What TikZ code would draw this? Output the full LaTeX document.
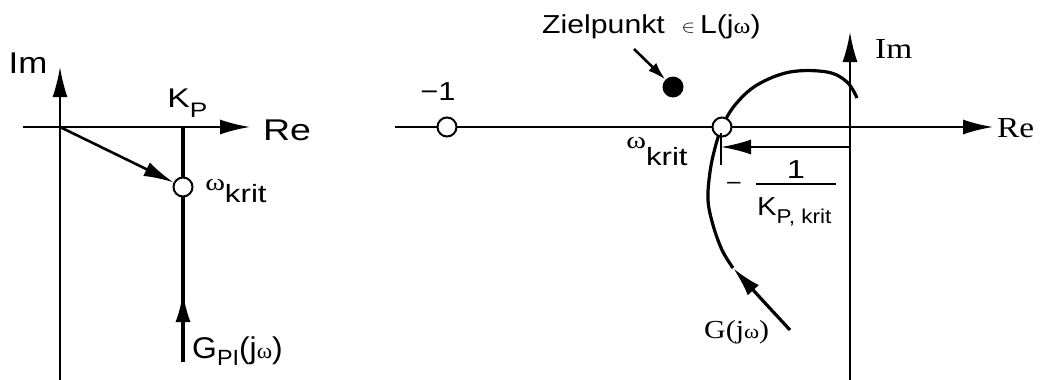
\documentclass[tikz,border=0pt]{standalone}
\usepackage{fontspec}
\usepackage{graphicx}
\setmainfont{Liberation Serif}
\setsansfont{Liberation Sans}
\usetikzlibrary{arrows.meta}
\newcommand\fs[1]{\fontsize{#1}{#1}\selectfont}
\newcommand\lsub[3]{\raisebox{-#1pt}{\fs{#2}#3}}
\newcommand\om[1][18]{{\rmfamily\fs{#1}ω}}
\tikzset{
  axis/.style={line width=2pt},
  thickline/.style={line width=3.6pt},
  bigtip/.style={-{Latex[length=30pt,width=15pt]}},
  opendot/.style={circle,draw,fill=white,line width=2pt,minimum size=19pt,inner sep=0pt},
  fulldot/.style={circle,fill=black,minimum size=21pt,inner sep=0pt},
  sflab/.style={font=\sffamily\fs{30}, inner sep=0pt, xscale=1.25},
  rmlab/.style={font=\rmfamily\fs{29}, inner sep=0pt, xscale=1.15}
}
\begin{document}
\begin{tikzpicture}[x=1pt,y=-1pt]
\useasboundingbox (0,0) rectangle (1042,380);
% ---------------- left diagram ----------------
\coordinate (imLbot) at (60,385);
\coordinate (imLtop) at (60,67);
\coordinate (reLleft) at (23,127);
\coordinate (reLtip) at (250,127);
\coordinate (O1) at (60,127);
\coordinate (kTop) at (183,127);
\coordinate (kBot) at (183,362);
\coordinate (kArr) at (183,292);
\coordinate (kArrBase) at (183,330);
\draw[axis,bigtip] (imLbot) -- (imLtop);
\draw[axis,bigtip] (reLleft) -- (reLtip);
\draw[thickline] (kTop) -- (kBot);
\draw[thickline,bigtip] (kArrBase) -- (kArr);
\node[opendot] (c1) at (183,187) {};
\draw[line width=2.6pt,bigtip] (O1) -- (c1);
\node[sflab,xscale=0.93] (imL) at (28,63) {Im};
\node[sflab] (reL) at (287,130) {Re};
\node[sflab,anchor=base west,font=\sffamily\fs{27}] (kp) at (167,107) {K\lsub{10}{21}{P}};
\node[sflab,anchor=base west] (wk1) at (205,190) {\om[24]\lsub{12}{25}{krit}};
\node[sflab,anchor=base west,xscale=0.85] (gpi) at (192,358) {G\lsub{7}{22}{PI}(j\om[22])};
% ---------------- right diagram ----------------
\coordinate (reRleft) at (395,127);
\coordinate (reRtip) at (993,127);
\coordinate (imRbot) at (850,385);
\coordinate (imRtop) at (850,32);
\draw[axis,bigtip] (reRleft) -- (reRtip);
\draw[axis,bigtip] (imRbot) -- (imRtop);
\node[opendot] (cm1) at (447,127) {};
\node[fulldot] (zp) at (673,87) {};
\coordinate (zpa) at (634,49);
\draw[line width=2.6pt,-{Latex[length=18pt,width=11pt]}] (zpa) -- (zp);
% curve
\coordinate (gEnd) at (790,330);
\coordinate (gTip) at (733,268);
\draw[line width=3.2pt,-{Latex[length=30pt,width=15pt]}] (gEnd) .. controls (765,303) .. (gTip);
\draw[line width=3.2pt] plot[smooth,tension=0.6] coordinates {(733,268) (722,250) (713,225) (708,200) (710,172) (715,148) (722,127) (735,105) (757,85) (790,72) (827,72) (847,82) (857,98)};
\node[opendot] (ck) at (722,127) {};
% -1/K arrow
\coordinate (kiStart) at (850,147);
\coordinate (kiTip) at (721,147);
\coordinate (tickT) at (721,133);
\coordinate (tickB) at (721,165);
\draw[line width=2pt] (tickT) -- (tickB);
\draw[axis,bigtip] (kiStart) -- (kiTip);
% labels
\node[sflab,font=\sffamily\fs{26},xscale=0.95] (m1) at (438,92) {−1};
\node[sflab,anchor=base west,font=\sffamily\fs{26},xscale=0.93] (zl) at (542,33) {Zielpunkt\ \ \raisebox{1pt}{\fs{17}$\in$}\,L(j\om[22])};
\node[rmlab,anchor=base west] (imR) at (875,58) {Im};
\node[rmlab,anchor=base west] (reR) at (997,137) {Re};
\node[sflab,anchor=base west] (wk2) at (626,148) {\om[24]\lsub{17}{25}{krit}};
\node[sflab,font=\sffamily\fs{22}] (minus) at (734,186) {−};
\node[sflab,font=\sffamily\fs{26}] (one) at (796,170) {1};
\coordinate (barL) at (756,184);
\coordinate (barR) at (836,184);
\draw[line width=1.6pt] (barL) -- (barR);
\node[sflab,anchor=base west,font=\sffamily\fs{26},xscale=0.9] (kpk) at (757,215) {K\lsub{8}{20}{P, krit}};
\node[rmlab,anchor=base west,font=\rmfamily\fs{26}] (gl) at (704,338) {G(j\om[20])};
\end{tikzpicture}
\end{document}
